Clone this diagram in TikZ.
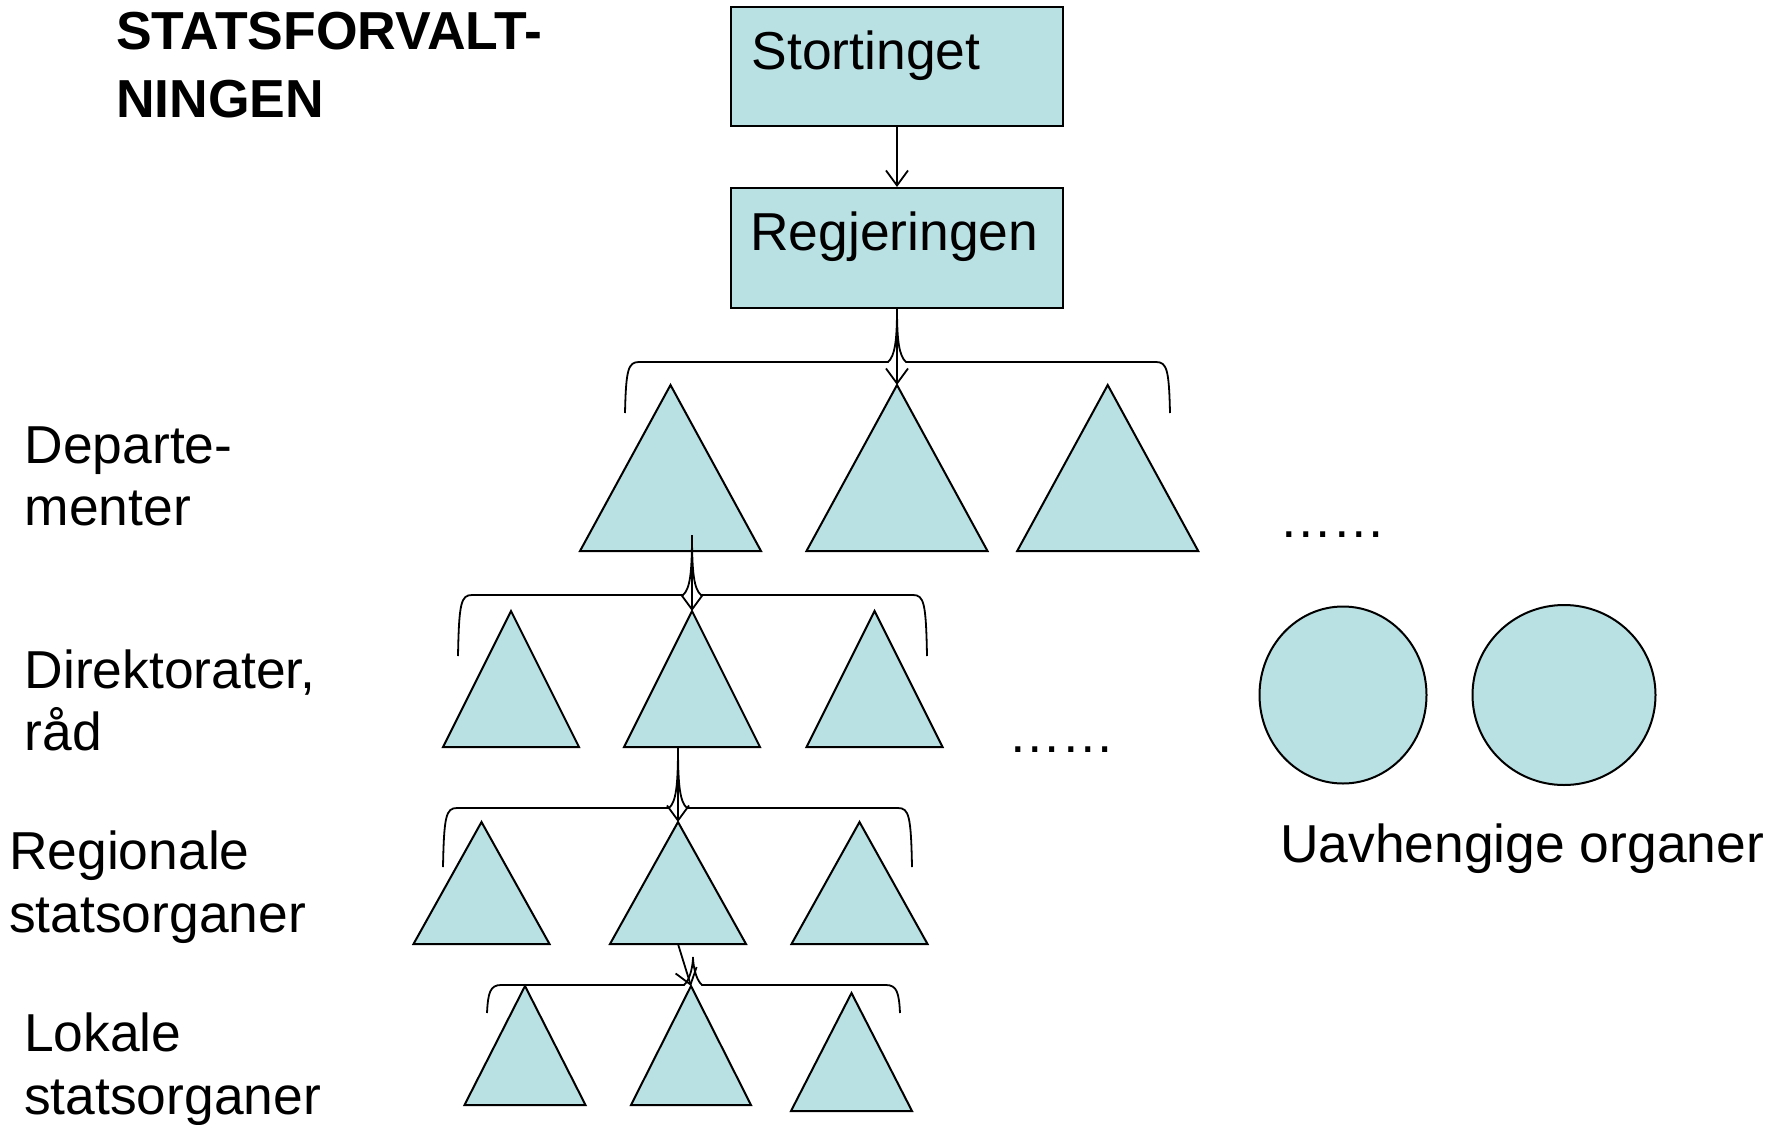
\documentclass[tikz,border=0pt]{standalone}
\usepackage{fontspec}
\setmainfont{Liberation Sans}
\usetikzlibrary{arrows.meta,shapes.geometric}
\definecolor{lb}{RGB}{185,224,227}
\newcommand\mytri[5]{%
  \draw[shp] (#2,#3) -- (#2+#4,#5) -- (#2-#4,#5) -- cycle;
  \coordinate (#1a) at (#2,#3);
  \coordinate (#1b) at (#2,#5);}
% brace: xL, xR, yh, yend, cx, tip coordinate
\newcommand\mybrace[6]{%
  \draw[conn] (#1,#4) .. controls (#1+1,#3+8) and (#1+3,#3) .. (#1+14,#3) -- (#5-9,#3)
     .. controls (#5-2,#3-6) and (#5,#3-22) .. (#6);
  \draw[conn] (#2,#4) .. controls (#2-1,#3+8) and (#2-3,#3) .. (#2-14,#3) -- (#5+9,#3)
     .. controls (#5+2,#3-6) and (#5,#3-22) .. (#6);}
\begin{document}
\begin{tikzpicture}[x=1pt,y=-1pt,
  shp/.style={draw=black,line width=2pt,fill=lb,line join=miter},
  conn/.style={draw=black,line width=1.8pt},
  arr/.style={conn,-{Straight Barb[length=15pt,width=22pt,line width=1.8pt]}},
  lbl/.style={anchor=base west,inner sep=0pt,font=\fontsize{53.4pt}{62pt}\selectfont},
  ttl/.style={anchor=base west,inner sep=0pt,font=\fontsize{53.5pt}{62pt}\selectfont\bfseries}]
\useasboundingbox (0,0) rectangle (1785,1124);

% title
\node[ttl] (title1) at (116,50) {STATSFORVALT-};
\node[ttl] (title2) at (116,117) {NINGEN};

% boxes
\node[shp,minimum width=332pt,minimum height=119pt,inner sep=0pt] (st) at (897,66.5) {};
\node[shp,minimum width=332pt,minimum height=120pt,inner sep=0pt] (rg) at (897,248) {};
\node[lbl] (stt) at (751.5,70) {Stortinget};
\node[lbl] (rgt) at (750,250) {Regjeringen};

% row 1
\mytri{ta}{670.5}{385}{90.5}{551}
\mytri{tb}{897}{385}{90.5}{551}
\mytri{tc}{1107.7}{385}{90.5}{551}
% row 2
\mytri{ua}{511}{611}{68}{747}
\mytri{ub}{692}{611}{68}{747}
\mytri{uc}{874.5}{611}{68}{747}
% row 3
\mytri{va}{481.5}{822}{68}{944}
\mytri{vb}{678}{822}{68}{944}
\mytri{vc}{859.5}{822}{68}{944}
% row 4
\mytri{wa}{525}{986}{60.5}{1105}
\mytri{wb}{691}{986}{60}{1105}
\mytri{wc}{851.5}{993}{60.5}{1111}

% circles
\node[shp,ellipse,minimum width=167pt,minimum height=177pt,inner sep=0pt] (c1) at (1343,695) {};
\node[shp,ellipse,minimum width=183pt,minimum height=180pt,inner sep=0pt] (c2) at (1564,695) {};

% connector points
\coordinate (s1) at (692,535);
\coordinate (s2) at (678,747);
\coordinate (s3) at (678,944);
\coordinate (k4) at (693,957);

% braces
\mybrace{625}{1170}{362}{413}{897}{rg.south}
\mybrace{458}{927}{595}{656}{692}{s1}
\mybrace{443}{912}{808}{867}{678}{s2}
\mybrace{487}{900}{985}{1013}{693}{k4}

% arrows
\draw[arr] (st.south) -- (rg.north);
\draw[arr] (rg.south) -- (tba);
\draw[arr] (s1) -- (uba);
\draw[arr] (s2) -- (vba);
\draw[arr] (s3) -- (wba);

% dots
\node[lbl] (dots1) at (1279,537) {……};
\node[lbl] (dots2) at (1008,752) {……};

% labels
\node[lbl] (l1a) at (24.5,463) {Departe-};
\node[lbl] (l1b) at (24.5,525) {menter};
\node[lbl] (l2a) at (24.5,688) {Direktorater,};
\node[lbl] (l2b) at (24.5,750) {råd};
\node[lbl] (l3a) at (9,869) {Regionale};
\node[lbl] (l3b) at (9,932) {statsorganer};
\node[lbl] (l4a) at (24,1051) {Lokale};
\node[lbl] (l4b) at (24,1114) {statsorganer};
\node[lbl] (uo) at (1280,862) {Uavhengige organer};
\end{tikzpicture}
\end{document}
